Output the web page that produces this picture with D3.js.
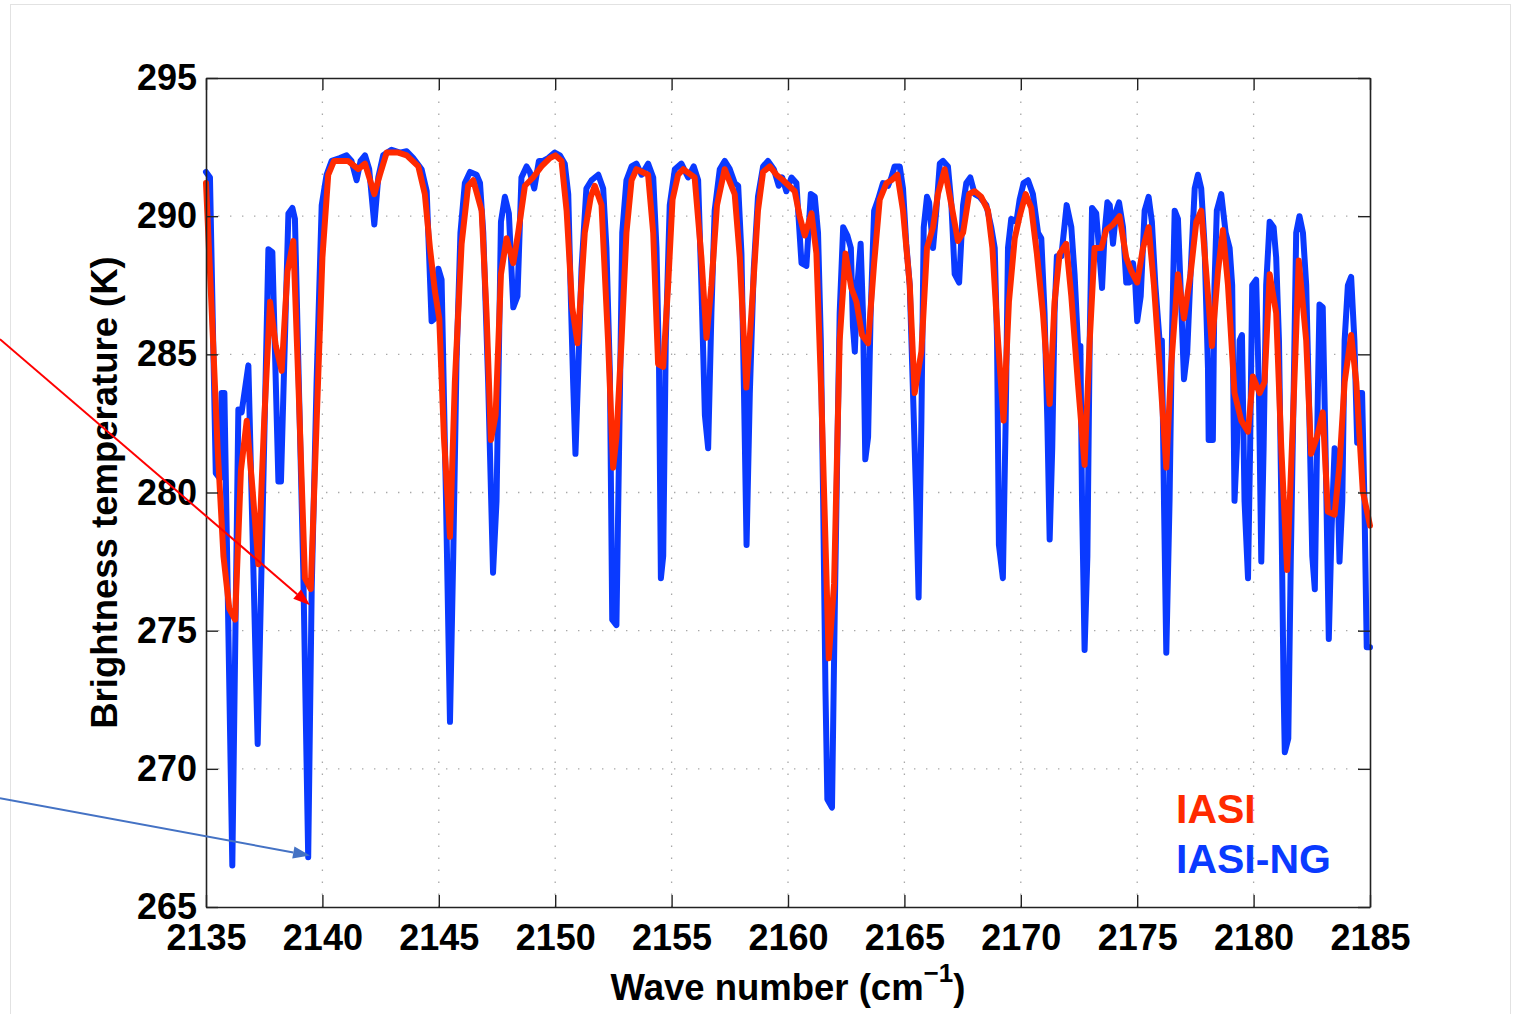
<!DOCTYPE html>
<html>
<head>
<meta charset="utf-8">
<script src="https://cdn.jsdelivr.net/npm/d3@7/dist/d3.min.js"></script>
<style>
  html, body { margin: 0; padding: 0; background: #fff; }
  svg { display: block; }
  text { font-family: "Liberation Sans", Arial, Helvetica, sans-serif; font-weight: bold; }
</style>
</head>
<body>
<svg id="chart" width="1516" height="1014"></svg>
<script>
// Brightness temperature spectra, [wavenumber (cm-1), BT (K)]
const iasiNG = [
  [2135.00,291.6],[2135.17,291.4],[2135.42,280.7],[2135.60,280.5],[2135.67,283.6],[2135.79,283.6],
  [2136.13,266.5],[2136.39,283.0],[2136.53,282.9],[2136.82,284.6],[2137.22,270.9],[2137.68,288.8],
  [2137.85,288.7],[2138.11,280.4],[2138.22,280.4],[2138.54,290.1],[2138.71,290.3],[2138.82,289.9],
  [2139.18,277.1],[2139.39,266.8],[2139.54,276.5],[2139.75,284.0],[2139.97,290.4],[2140.18,291.5],
  [2140.40,292.0],[2140.75,292.1],[2141.04,292.2],[2141.25,292.0],[2141.47,291.3],[2141.64,292.0],
  [2141.83,292.2],[2142.01,291.7],[2142.23,289.7],[2142.40,291.4],[2142.61,292.2],[2142.97,292.4],
  [2143.33,292.3],[2143.62,292.35],[2143.90,292.1],[2144.26,291.7],[2144.48,290.9],[2144.69,286.2],
  [2144.83,286.3],[2144.98,288.1],[2145.12,287.7],[2145.31,279.7],[2145.48,271.7],[2145.62,277.7],
  [2145.76,284.7],[2145.93,289.4],[2146.12,291.2],[2146.34,291.6],[2146.62,291.5],[2146.77,291.2],
  [2146.91,289.4],[2147.12,284.0],[2147.33,277.1],[2147.48,279.7],[2147.67,289.8],[2147.84,290.7],
  [2148.01,290.1],[2148.20,286.7],[2148.38,287.1],[2148.55,291.4],[2148.77,291.8],[2148.91,291.6],
  [2149.10,291.0],[2149.30,292.0],[2149.48,292.0],[2149.70,292.1],[2149.98,292.3],[2150.20,292.2],
  [2150.41,291.9],[2150.56,290.8],[2150.67,287.1],[2150.77,284.0],[2150.87,281.4],[2150.99,284.4],
  [2151.13,288.1],[2151.34,291.0],[2151.56,291.3],[2151.85,291.5],[2152.06,291.0],[2152.20,288.85],
  [2152.35,284.3],[2152.45,275.4],[2152.63,275.2],[2152.78,283.6],[2152.88,289.4],[2153.06,291.3],
  [2153.28,291.8],[2153.49,291.9],[2153.71,291.5],[2153.99,291.9],[2154.21,291.4],[2154.35,288.85],
  [2154.46,284.55],[2154.54,276.9],[2154.64,277.7],[2154.75,285.5],[2154.92,290.4],[2155.14,291.7],
  [2155.42,291.9],[2155.71,291.4],[2155.95,291.8],[2156.14,291.3],[2156.28,287.5],[2156.43,282.8],
  [2156.57,281.6],[2156.71,286.5],[2156.85,290.2],[2157.07,291.7],[2157.28,292.0],[2157.50,291.7],
  [2157.71,291.2],[2157.86,291.1],[2158.00,288.65],[2158.11,283.6],[2158.22,278.1],[2158.36,283.6],
  [2158.53,288.1],[2158.71,290.7],[2158.93,291.8],[2159.14,292.0],[2159.39,291.7],[2159.60,291.1],
  [2159.75,291.4],[2159.93,290.9],[2160.15,291.4],[2160.36,291.2],[2160.58,288.3],[2160.79,288.2],
  [2160.98,290.8],[2161.15,290.7],[2161.29,289.4],[2161.41,285.5],[2161.51,279.7],[2161.61,272.8],
  [2161.69,268.9],[2161.89,268.6],[2162.01,275.8],[2162.12,281.6],[2162.22,286.5],[2162.37,289.6],
  [2162.55,289.3],[2162.70,288.85],[2162.79,286.0],[2162.87,285.1],[2162.98,287.5],[2163.12,289.0],
  [2163.22,286.5],[2163.32,281.2],[2163.44,282.0],[2163.55,286.5],[2163.70,290.2],[2163.87,290.6],
  [2164.08,291.2],[2164.30,291.1],[2164.44,291.4],[2164.58,291.8],[2164.80,291.8],[2164.94,291.0],
  [2165.08,289.0],[2165.23,287.5],[2165.37,283.6],[2165.51,279.7],[2165.61,276.2],[2165.73,282.6],
  [2165.83,289.6],[2165.97,290.7],[2166.06,290.5],[2166.23,288.85],[2166.37,290.2],[2166.52,291.9],
  [2166.66,292.0],[2166.87,291.8],[2167.02,290.4],[2167.16,287.9],[2167.35,287.6],[2167.52,290.4],
  [2167.66,291.2],[2167.83,291.4],[2168.02,290.8],[2168.23,290.7],[2168.52,290.4],[2168.73,289.6],
  [2168.88,288.85],[2168.98,285.5],[2169.06,278.1],[2169.23,276.9],[2169.35,282.6],[2169.45,288.85],
  [2169.59,289.9],[2169.81,289.8],[2169.95,290.6],[2170.12,291.2],[2170.31,291.3],[2170.52,290.8],
  [2170.74,289.4],[2170.88,289.2],[2171.02,286.5],[2171.14,282.6],[2171.24,278.3],[2171.35,281.6],
  [2171.45,286.5],[2171.55,288.55],[2171.74,288.55],[2171.97,290.4],[2172.17,289.6],[2172.31,287.9],
  [2172.46,285.3],[2172.56,285.3],[2172.63,279.7],[2172.74,274.3],[2172.86,277.7],[2172.96,285.5],
  [2173.06,290.3],[2173.24,290.1],[2173.39,288.5],[2173.49,287.4],[2173.60,289.4],[2173.72,290.5],
  [2173.82,290.4],[2173.96,289.0],[2174.10,290.2],[2174.22,290.5],[2174.39,289.6],[2174.53,287.6],
  [2174.67,287.6],[2174.82,288.3],[2174.92,287.5],[2175.00,286.2],[2175.15,287.1],[2175.32,290.2],
  [2175.49,290.7],[2175.63,289.8],[2175.78,287.5],[2175.96,285.5],[2176.06,285.5],[2176.15,279.7],
  [2176.25,274.2],[2176.39,279.7],[2176.49,285.5],[2176.61,290.2],[2176.75,289.9],[2176.86,287.5],
  [2177.01,284.1],[2177.15,285.1],[2177.29,287.9],[2177.47,291.0],[2177.61,291.5],[2177.75,291.0],
  [2177.89,289.0],[2178.04,284.5],[2178.07,281.9],[2178.25,281.9],[2178.32,287.5],[2178.42,290.2],
  [2178.61,290.8],[2178.80,289.4],[2178.97,288.85],[2179.08,287.5],[2179.18,279.7],[2179.28,281.6],
  [2179.40,285.5],[2179.50,285.7],[2179.61,279.7],[2179.76,276.9],[2179.85,281.6],[2179.94,287.5],
  [2180.11,287.7],[2180.23,283.6],[2180.33,277.5],[2180.43,281.6],[2180.54,287.5],[2180.69,289.8],
  [2180.86,289.6],[2180.97,288.5],[2181.09,285.5],[2181.19,279.7],[2181.29,272.8],[2181.34,270.6],
  [2181.49,271.1],[2181.60,277.7],[2181.72,283.6],[2181.83,289.4],[2181.97,290.0],[2182.12,289.4],
  [2182.26,287.5],[2182.40,282.6],[2182.52,277.7],[2182.63,276.5],[2182.76,283.6],[2182.83,286.8],
  [2182.97,286.7],[2183.09,281.6],[2183.23,274.7],[2183.35,278.7],[2183.48,281.6],[2183.58,281.4],
  [2183.69,277.5],[2183.81,279.7],[2183.91,285.5],[2184.05,287.5],[2184.19,287.8],[2184.33,285.5],
  [2184.45,281.8],[2184.55,283.6],[2184.66,283.6],[2184.76,279.7],[2184.86,274.4],[2185.00,274.4]
];

const iasi = [
  [2135.00,291.2],[2135.25,286.5],[2135.50,281.6],[2135.75,277.7],[2136.00,275.8],[2136.25,275.4],
  [2136.50,280.8],[2136.75,282.6],[2137.00,280.1],[2137.25,277.4],[2137.50,282.6],[2137.75,286.9],
  [2138.00,285.3],[2138.25,284.4],[2138.50,288.0],[2138.75,289.1],[2139.00,283.2],[2139.25,276.9],
  [2139.50,276.5],[2139.75,282.5],[2140.00,288.5],[2140.25,291.5],[2140.50,292.0],[2140.75,292.0],
  [2141.10,292.0],[2141.54,291.7],[2141.83,291.9],[2142.23,290.8],[2142.47,291.5],[2142.76,292.3],
  [2143.26,292.3],[2143.62,292.2],[2144.12,291.8],[2144.40,290.8],[2144.62,288.85],[2144.83,287.3],
  [2145.02,286.3],[2145.22,282.0],[2145.48,278.4],[2145.69,284.0],[2145.98,289.0],[2146.26,291.1],
  [2146.48,291.3],[2146.84,290.2],[2147.05,286.5],[2147.24,281.9],[2147.44,282.8],[2147.67,287.9],
  [2147.91,289.2],[2148.20,288.3],[2148.41,289.4],[2148.70,291.1],[2149.05,291.4],[2149.41,291.8],
  [2149.77,292.1],[2150.01,292.2],[2150.27,292.0],[2150.49,290.2],[2150.73,286.7],[2150.96,285.4],
  [2151.27,289.4],[2151.53,290.7],[2151.70,291.1],[2151.99,290.4],[2152.27,285.5],[2152.49,280.9],
  [2152.63,282.0],[2152.85,285.5],[2153.06,289.4],[2153.28,291.3],[2153.49,291.7],[2153.99,291.5],
  [2154.21,289.4],[2154.42,284.65],[2154.64,284.55],[2154.85,287.5],[2155.04,290.6],[2155.28,291.5],
  [2155.50,291.7],[2155.99,291.4],[2156.28,288.5],[2156.50,285.6],[2156.71,287.5],[2156.95,290.4],
  [2157.28,291.7],[2157.71,290.8],[2157.93,288.5],[2158.21,283.8],[2158.43,286.5],[2158.71,290.2],
  [2158.93,291.6],[2159.22,291.8],[2159.50,291.5],[2159.79,291.3],[2160.29,290.9],[2160.50,290.0],
  [2160.72,289.3],[2161.01,290.1],[2161.22,288.65],[2161.43,283.6],[2161.75,274.0],[2161.98,276.7],
  [2162.22,285.5],[2162.47,288.65],[2162.72,287.4],[2162.94,286.9],[2163.18,285.7],[2163.44,285.4],
  [2163.70,288.3],[2163.94,290.6],[2164.23,291.2],[2164.44,291.3],[2164.70,291.5],[2164.94,290.2],
  [2165.23,287.5],[2165.44,283.6],[2165.73,285.1],[2165.97,288.85],[2166.23,289.6],[2166.44,290.8],
  [2166.73,291.7],[2167.02,290.4],[2167.30,289.1],[2167.52,289.4],[2167.78,290.8],[2168.02,290.9],
  [2168.30,290.7],[2168.59,290.2],[2168.78,288.85],[2169.02,285.5],[2169.26,282.6],[2169.49,286.9],
  [2169.74,289.2],[2169.95,290.0],[2170.21,290.8],[2170.45,290.3],[2170.69,288.65],[2170.95,286.5],
  [2171.24,283.2],[2171.45,286.9],[2171.67,288.65],[2171.95,289.0],[2172.17,287.1],[2172.46,283.9],
  [2172.74,281.0],[2172.96,285.5],[2173.17,288.85],[2173.46,288.85],[2173.67,289.5],[2173.96,289.7],
  [2174.24,290.0],[2174.53,288.5],[2174.75,288.0],[2175.00,287.6],[2175.25,288.85],[2175.49,289.6],
  [2175.72,287.5],[2175.96,284.6],[2176.25,280.9],[2176.46,284.6],[2176.75,287.9],[2177.01,286.3],
  [2177.29,287.9],[2177.54,289.8],[2177.75,290.2],[2177.97,287.9],[2178.21,285.3],[2178.47,288.0],
  [2178.68,289.5],[2178.90,287.5],[2179.18,283.6],[2179.47,282.6],[2179.76,282.2],[2179.97,284.2],
  [2180.26,283.6],[2180.47,284.0],[2180.69,287.9],[2180.97,286.5],[2181.19,281.6],[2181.44,277.2],
  [2181.69,282.6],[2181.94,288.4],[2182.26,285.5],[2182.47,281.4],[2182.72,282.0],[2182.97,282.9],
  [2183.19,279.3],[2183.48,279.2],[2183.69,281.0],[2183.91,284.0],[2184.19,285.7],[2184.41,284.0],
  [2184.69,280.05],[2185.00,278.8]
];

const xTicks = [2135, 2140, 2145, 2150, 2155, 2160, 2165, 2170, 2175, 2180, 2185];
const yTicks = [265, 270, 275, 280, 285, 290, 295];

const seriesNames = ["IASI", "IASI-NG"];

// Pointer arrows: [start, tip] in data coordinates
const arrowIASI   = [[2126.15, 285.55], [2139.47, 275.92]];
const arrowIASING = [[2126.15, 268.94], [2139.47, 266.86]];

const svg = d3.select("#chart");
const plot = { left: 206, right: 1370, top: 78, bottom: 907 };

const COLOR_NG = "#0a3aff";
const COLOR_IASI = "#ff2a00";

// outer frame
svg.append("rect")
  .attr("x", 10.5).attr("y", 4.5).attr("width", 1500).attr("height", 1030)
  .attr("fill", "#fff").attr("stroke", "#e2e2e2").attr("stroke-width", 1);

const x = d3.scaleLinear().domain([2135, 2185]).range([plot.left, plot.right]);
const y = d3.scaleLinear().domain([265, 295]).range([plot.bottom, plot.top]);

// dotted grid
const grid = svg.append("g").attr("stroke", "#a8a8a8").attr("stroke-width", 1.3)
  .attr("stroke-dasharray", "1.4 10.6");
grid.selectAll("line.gx").data(xTicks.slice(1, -1)).join("line")
  .attr("x1", d => x(d)).attr("x2", d => x(d))
  .attr("y1", plot.bottom).attr("y2", plot.top);
grid.selectAll("line.gy").data(yTicks.slice(1, -1)).join("line")
  .attr("x1", plot.left).attr("x2", plot.right)
  .attr("y1", d => y(d)).attr("y2", d => y(d));

// spectra
const line = d3.line().x(d => x(d[0])).y(d => y(d[1]));
const lines = svg.append("g").attr("fill", "none")
  .attr("stroke-linejoin", "round").attr("stroke-linecap", "round");
lines.append("path").datum(iasiNG).attr("d", line)
  .attr("stroke", COLOR_NG).attr("stroke-width", 6);
lines.append("path").datum(iasi).attr("d", line)
  .attr("stroke", COLOR_IASI).attr("stroke-width", 6);

// axes
const fontSize = 36;
function styleAxis(g) {
  g.selectAll(".domain").attr("stroke", "#222").attr("stroke-width", 1.6);
  g.selectAll(".tick line").attr("stroke", "#222").attr("stroke-width", 1.4);
  g.selectAll(".tick text").attr("fill", "#000")
    .style("font-size", fontSize + "px").style("font-weight", "bold")
    .style("font-family", '"Liberation Sans", Arial, Helvetica, sans-serif');
}

svg.append("g").attr("transform", `translate(0,${plot.bottom})`)
  .call(d3.axisBottom(x).tickValues(xTicks).tickFormat(d3.format("d"))
    .tickSizeInner(-12).tickSizeOuter(0).tickPadding(17.5))
  .call(styleAxis);
svg.append("g").attr("transform", `translate(0,${plot.top})`)
  .call(d3.axisTop(x).tickValues(xTicks).tickFormat("")
    .tickSizeInner(-12).tickSizeOuter(0))
  .call(styleAxis);
svg.append("g").attr("transform", `translate(${plot.left},0)`)
  .call(d3.axisLeft(y).tickValues(yTicks).tickFormat(d3.format("d"))
    .tickSizeInner(-12).tickSizeOuter(0).tickPadding(9))
  .call(styleAxis);
svg.append("g").attr("transform", `translate(${plot.right},0)`)
  .call(d3.axisRight(y).tickValues(yTicks).tickFormat("")
    .tickSizeInner(-12).tickSizeOuter(0))
  .call(styleAxis);

// axis titles
const xTitle = svg.append("text")
  .attr("x", 788).attr("y", 1000)
  .attr("text-anchor", "middle").style("font-size", "36.5px").attr("fill", "#000");
xTitle.append("tspan").text("Wave number (cm");
xTitle.append("tspan").text("\u22121").style("font-size", "26px").attr("dy", -18);
xTitle.append("tspan").text(")").attr("dy", 18);

svg.append("text")
  .attr("transform", `translate(117,${(plot.top + plot.bottom) / 2}) rotate(-90)`)
  .attr("text-anchor", "middle").style("font-size", "36.5px").attr("fill", "#000")
  .text("Brightness temperature (K)");

// legend
const legend = svg.append("g").style("font-size", "41px");
legend.append("text").attr("x", 1176).attr("y", 823).attr("fill", COLOR_IASI).text(seriesNames[0]);
legend.append("text").attr("x", 1176).attr("y", 873).attr("fill", COLOR_NG).text(seriesNames[1]);

// pointer arrows
function arrow(pts, color) {
  const [p0, p1] = pts.map(p => [x(p[0]), y(p[1])]);
  const ang = Math.atan2(p1[1] - p0[1], p1[0] - p0[0]);
  const len = 17, half = 6;
  const bx = p1[0] - len * Math.cos(ang), by = p1[1] - len * Math.sin(ang);
  const g = svg.append("g");
  g.append("line").attr("x1", p0[0]).attr("y1", p0[1]).attr("x2", bx).attr("y2", by)
    .attr("stroke", color).attr("stroke-width", 2);
  const nx = -Math.sin(ang), ny = Math.cos(ang);
  g.append("path")
    .attr("d", `M${p1[0]},${p1[1]} L${bx + half * nx},${by + half * ny} L${bx - half * nx},${by - half * ny} Z`)
    .attr("fill", color);
}
arrow(arrowIASI, "#ff0000");
arrow(arrowIASING, "#4472c4");
</script>
</body>
</html>
